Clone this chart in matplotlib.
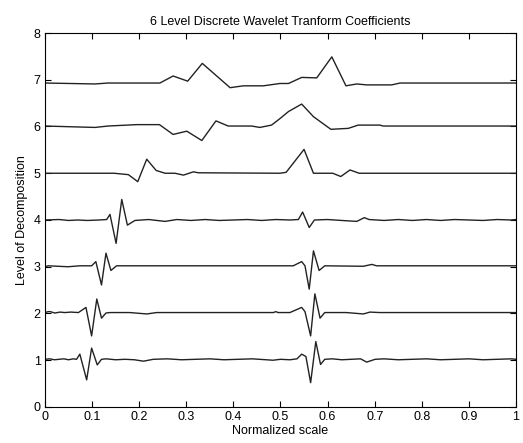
"""Six-level DWT coefficient traces, stacked by decomposition level."""

import matplotlib

matplotlib.use("Agg")
import matplotlib.pyplot as plt

# breakpoints of each trace (x normalized, y offset by level)
level1_x = [0, 0.01, 0.02, 0.03, 0.04, 0.05, 0.06, 0.067, 0.074, 0.0885, 0.099, 0.111, 0.120,
            0.13, 0.15, 0.17, 0.19, 0.209, 0.23, 0.26, 0.29, 0.32, 0.35, 0.38, 0.41, 0.44,
            0.47, 0.484, 0.50, 0.52, 0.535, 0.545, 0.554, 0.564, 0.575, 0.585, 0.594, 0.61,
            0.63, 0.65, 0.67, 0.683, 0.701, 0.72, 0.75, 0.78, 0.81, 0.84, 0.87, 0.90, 0.93,
            0.96, 0.99, 1.0]
level1_y = [1.02, 1.03, 1.01, 1.02, 1.03, 1.01, 1.03, 1.02, 1.13, 0.58, 1.26, 0.90, 1.02,
            1.03, 1.01, 1.02, 1.01, 0.98, 1.02, 1.03, 1.01, 1.02, 1.03, 1.01, 1.02, 1.03,
            1.01, 1.00, 1.02, 1.01, 1.03, 1.13, 1.08, 0.52, 1.40, 0.91, 1.02, 1.03, 1.01,
            1.02, 1.03, 0.96, 1.02, 1.03, 1.01, 1.02, 1.03, 1.01, 1.02, 1.03, 1.01, 1.02,
            1.03, 1.02]

level2_x = [0, 0.007, 0.011, 0.021, 0.032, 0.042, 0.055, 0.071, 0.087, 0.099, 0.110, 0.120,
            0.1295, 0.138, 0.18, 0.216, 0.237, 0.30, 0.38, 0.45, 0.485, 0.49, 0.495, 0.52,
            0.545, 0.552, 0.564, 0.573, 0.584, 0.594, 0.64, 0.676, 0.690, 0.711, 0.80,
            0.90, 1.0]
level2_y = [2.02, 2.04, 2.04, 2.01, 2.03, 2.02, 2.03, 2.02, 2.13, 1.52, 2.31, 1.90,
            2.01, 2.02, 2.02, 1.99, 2.02, 2.02, 2.02, 2.02, 2.02, 2.04, 2.02, 2.02,
            2.13, 2.04, 1.52, 2.42, 1.90, 2.02, 2.02, 1.99, 2.03, 2.02, 2.02,
            2.02, 2.02]

level3_x = [0, 0.007, 0.049, 0.074, 0.099, 0.108, 0.120, 0.1295, 0.140, 0.152, 0.244,
            0.492, 0.527, 0.545, 0.552, 0.561, 0.570, 0.582, 0.594, 0.676, 0.694,
            0.704, 1.0]
level3_y = [3.00, 3.02, 3.00, 3.02, 3.02, 3.11, 2.61, 3.29, 2.92, 3.02, 3.02,
            3.02, 3.02, 3.11, 3.02, 2.52, 3.34, 2.92, 3.02, 3.01, 3.05,
            3.02, 3.02]

level4_x = [0, 0.03, 0.05, 0.07, 0.09, 0.115, 0.131, 0.138, 0.151, 0.163, 0.175, 0.191,
            0.22, 0.255, 0.28, 0.31, 0.34, 0.37, 0.40, 0.43, 0.46, 0.49, 0.52, 0.538,
            0.547, 0.561, 0.572, 0.60, 0.63, 0.662, 0.678, 0.688, 0.72, 0.75, 0.78,
            0.81, 0.84, 0.87, 0.90, 0.93, 0.96, 0.99, 1.0]
level4_y = [4.00, 4.01, 3.99, 4.00, 3.99, 4.00, 4.01, 4.12, 3.50, 4.44, 3.89, 3.99,
            4.01, 3.97, 4.01, 3.99, 4.01, 3.99, 4.00, 4.01, 3.99, 4.01, 4.00, 4.01,
            4.17, 3.84, 4.00, 4.01, 3.99, 3.97, 4.05, 4.01, 3.99, 4.01, 3.99,
            4.01, 3.99, 4.01, 4.00, 3.99, 4.01, 4.00, 4.01]

level5_x = [0, 0.1465, 0.177, 0.197, 0.216, 0.236, 0.255, 0.276, 0.294, 0.315, 0.3255,
            0.499, 0.512, 0.550, 0.570, 0.611, 0.628, 0.6476, 0.667, 1.0]
level5_y = [5.00, 5.00, 4.97, 4.82, 5.30, 5.06, 5.00, 5.00, 4.96, 5.03, 5.01,
            5.00, 5.02, 5.51, 5.00, 5.00, 4.93, 5.07, 5.00, 5.00]

level6_x = [0, 0.106, 0.134, 0.195, 0.243, 0.272, 0.301, 0.333, 0.363, 0.389, 0.439,
            0.456, 0.481, 0.499, 0.517, 0.545, 0.570, 0.607, 0.644, 0.665, 0.711,
            0.718, 1.0]
level6_y = [6.01, 5.98, 6.01, 6.04, 6.04, 5.83, 5.90, 5.70, 6.12, 6.01, 6.01,
            5.98, 6.03, 6.17, 6.32, 6.48, 6.21, 5.94, 5.96, 6.03, 6.03,
            6.01, 6.01]

level7_x = [0, 0.106, 0.134, 0.244, 0.272, 0.303, 0.334, 0.393, 0.421, 0.4635, 0.499,
            0.517, 0.545, 0.577, 0.609, 0.639, 0.662, 0.683, 0.736, 0.754, 1.0]
level7_y = [6.93, 6.91, 6.93, 6.93, 7.08, 6.97, 7.35, 6.83, 6.87, 6.87, 6.92,
            6.92, 7.05, 7.04, 7.49, 6.87, 6.91, 6.89, 6.89, 6.93, 6.93]

x_ticks = [0, 0.1, 0.2, 0.3, 0.4, 0.5, 0.6, 0.7, 0.8, 0.9, 1]
x_tick_labels = ["0", "0.1", "0.2", "0.3", "0.4", "0.5", "0.6", "0.7", "0.8", "0.9", "1"]
y_ticks = [0, 1, 2, 3, 4, 5, 6, 7, 8]

plt.rcParams.update({"font.family": ["Liberation Sans", "DejaVu Sans"], "font.size": 9})

fig = plt.figure(figsize=(5.23, 4.43), dpi=100)
ax = fig.add_axes([0.086, 0.0813, 0.9006, 0.8442])

traces = [
    (level1_x, level1_y), (level2_x, level2_y), (level3_x, level3_y),
    (level4_x, level4_y), (level5_x, level5_y), (level6_x, level6_y),
    (level7_x, level7_y),
]
for xs, ys in traces:
    ax.plot(xs, ys, color="#222222", lw=1.0)

ax.set_xlim(0, 1)
ax.set_ylim(0, 8)
ax.set_xticks(x_ticks)
ax.set_xticklabels(x_tick_labels)
ax.set_yticks(y_ticks)
ax.tick_params(direction="in", top=True, right=True, length=4, width=0.8, pad=3)
for sp in ax.spines.values():
    sp.set_linewidth(0.8)

ax.set_title("6 Level Discrete Wavelet Tranform Coefficients", fontsize=9, pad=6)
ax.set_xlabel("Normalized scale", labelpad=1)
ax.set_ylabel("Level of Decomposition", labelpad=4)

fig.savefig("out.png", dpi=100)
plt.close(fig)
